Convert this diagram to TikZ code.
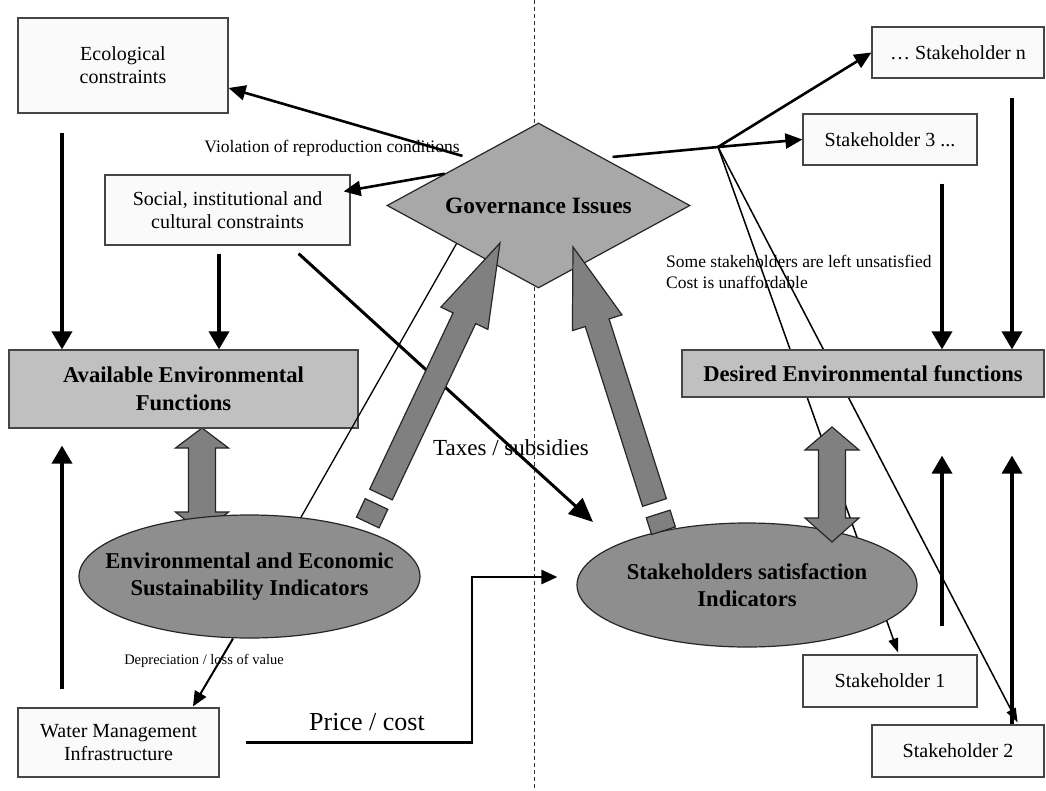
\documentclass[tikz,border=0pt]{standalone}
\usepackage{fontspec}
\setmainfont{Liberation Serif}
\usetikzlibrary{arrows.meta,shapes.geometric,calc}
\definecolor{boxfill}{HTML}{FAFAFA}
\definecolor{lightbox}{HTML}{C0C0C0}
\definecolor{govfill}{HTML}{A8A8A8}
\definecolor{ellfill}{HTML}{8E8E8E}
\definecolor{blockfill}{HTML}{808080}
\definecolor{edge}{HTML}{454545}
\newcommand{\regtext}{\fontsize{20}{23}\selectfont}
\newcommand{\boldtext}{\fontsize{22.6}{27.5}\selectfont\bfseries}
\newcommand{\smalltext}{\fontsize{17.5}{21}\selectfont}
\pgfdeclarelayer{bg}
\pgfdeclarelayer{fg}
\pgfsetlayers{bg,main,fg}
\begin{document}
\begin{tikzpicture}[x=1pt,y=-1pt,
  plainbox/.style={draw=edge, line width=1.2pt, fill=boxfill, inner sep=0pt, align=center, font=\regtext},
  graybox/.style={draw=edge, line width=1.2pt, fill=lightbox, inner sep=0pt, align=center, font=\boldtext},
  indell/.style={ellipse, draw=black!85, line width=1.2pt, fill=ellfill, inner sep=0pt},
  indtext/.style={inner sep=0pt, align=center, font=\boldtext},
  thickarrow/.style={line width=3.6pt, -{Triangle[length=18pt,width=20pt]}},
  midarrow/.style={line width=2.6pt, -{Triangle[length=17pt,width=15pt]}},
  taxarrow/.style={line width=3pt, -{Triangle[length=24pt,width=21pt]}},
  thinarrow/.style={line width=1.5pt, -{Triangle[length=14pt,width=10pt]}},
  thinline/.style={line width=1.3pt},
  blockshape/.style={draw=black!85, line width=1.2pt, fill=blockfill, line join=miter},
  lbl/.style={inner sep=0pt, align=left}
]
\useasboundingbox (0,0) rectangle (1046,790);

% column and branch coordinates
\coordinate (colA) at (62,0);
\coordinate (colB) at (219,0);
\coordinate (colC) at (942,0);
\coordinate (colD) at (1012,0);
\coordinate (colP) at (472,0);
\coordinate (br) at (718,147);

% nodes
\node[plainbox, minimum width=210pt, minimum height=95pt] (eco) at (123,65.5) {Ecological\\constraints};
\node[plainbox, minimum width=245pt, minimum height=70pt] (soc) at (227.5,210) {Social, institutional and\\cultural constraints};
\node[graybox, minimum width=349pt, minimum height=78pt] (avail) at (183.5,389) {Available Environmental\\Functions};
\node[plainbox, minimum width=201pt, minimum height=69pt] (water) at (118.5,742.5) {Water Management\\Infrastructure};
\node[diamond, draw=black!85, line width=1.2pt, fill=govfill, minimum width=303pt, minimum height=165pt, inner sep=0pt, aspect=1.84, font=\fontsize{23.4}{28}\selectfont\bfseries] (gov) at (538.5,205.5) {Governance Issues};
\node[indell, minimum width=341pt, minimum height=123pt] (envind) at (249.5,576.5) {};
\node[indtext] (envindtext) at (envind.center) {Environmental and Economic\\Sustainability Indicators};
\node[indell, minimum width=340pt, minimum height=124pt] (stakeind) at (747,585) {};
\node[indtext] (stakeindtext) at (stakeind.center) {Stakeholders satisfaction\\Indicators};
\node[graybox, minimum width=362pt, minimum height=47pt] (desired) at (863,373.5) {Desired Environmental functions};
\node[plainbox, minimum width=172pt, minimum height=51pt] (shn) at (958,52.5) {… Stakeholder n};
\node[plainbox, minimum width=174pt, minimum height=51pt] (sh3) at (890,139.5) {Stakeholder 3 ...};
\node[plainbox, minimum width=174pt, minimum height=52pt] (sh1) at (890,681) {Stakeholder 1};
\node[plainbox, minimum width=172pt, minimum height=52pt] (sh2) at (958,751) {Stakeholder 2};

\coordinate (pcend) at ([xshift=-19pt,yshift=8pt]stakeind.west);

\begin{pgfonlayer}{bg}
  \fill[white] (0,0) rectangle (1046,790);
  \draw[line width=1pt, dash pattern=on 4pt off 3pt, black!80] (534,0) -- (534,790);
  \draw[thinarrow] (br) -- ([xshift=8pt,yshift=2pt]sh1.north);
  \draw[thinarrow] (br) -- ([xshift=-27pt,yshift=2pt]sh2.north east);
  % left double block arrow (under the ellipse)
  \draw[blockshape] (202,428) -- (228.5,448) -- (215.5,448) -- (215.5,512) -- (228.5,512) -- (202,533)
     -- (175.5,512) -- (188.5,512) -- (188.5,448) -- (175.5,448) -- cycle;
\end{pgfonlayer}

\begin{pgfonlayer}{fg}
  % vertical arrows
  \draw[thickarrow] ([yshift=-19pt]eco.south -| colA) -- (avail.north -| colA);
  \draw[thickarrow] ([yshift=-8pt]soc.south -| colB) -- (avail.north -| colB);
  \draw[thickarrow] ([yshift=18pt]water.north -| colA) -- ([yshift=-17pt]avail.south -| colA);
  \draw[thickarrow] ([yshift=-18pt]sh3.south -| colC) -- (desired.north -| colC);
  \draw[thickarrow] ([yshift=-19pt]shn.south -| colD) -- (desired.north -| colD);
  \draw[thickarrow] ([yshift=28pt]sh1.north -| colC) -- ([yshift=-58pt]desired.south -| colC);
  \draw[thickarrow] (sh2.north -| colD) -- ([yshift=-58pt]desired.south -| colD);

  % governance arrows
  \draw[midarrow] ([yshift=8pt]gov.north west) -- ([yshift=-22.5pt]eco.east);
  \draw[midarrow] ([xshift=-17.75pt,yshift=-9.75pt]gov.north west) -- ([xshift=-7pt,yshift=-17pt]soc.north east);
  \draw[line width=2.6pt] ([xshift=-2pt,yshift=7pt]gov.north east) -- (br);
  \draw[midarrow] (br) -- (shn.west);
  \draw[midarrow] (br) -- (sh3.west);

  % thin line governance - indicators
  \draw[thinline] (gov.205) -- (envind.49.7);

  % taxes / subsidies
  \draw[taxarrow] ([xshift=-52pt,yshift=-8pt]soc.south east) -- ($(stakeind.center)+(-154,-63)$);

  % depreciation
  \draw[line width=2pt, -{Triangle[length=15pt,width=13pt]}] ([xshift=-16.5pt]envind.south) -- ([xshift=74.5pt,yshift=1pt]water.north);

  % price / cost
  \draw[line width=2.6pt, line join=miter, -{Triangle[length=16pt,width=14pt]}] ([xshift=26pt]water.east) -| (colP |- pcend) -- (pcend);

  % big block arrows to governance
  \begin{scope}[shift={(381,494.5)}, rotate=64.68]
    \draw[blockshape] (0,-12.5) -- (195,-12.5) -- (195,-26) -- (278.2,0) -- (195,26) -- (195,12.5) -- (0,12.5) -- cycle;
    \draw[blockshape] (-10.5,-12.5) rectangle (-31,12.5);
  \end{scope}
  \begin{scope}[shift={(654.5,502.5)}, rotate=107.69]
    \draw[blockshape] (0,-12.5) -- (188.7,-12.5) -- (188.7,-26) -- (268.2,0) -- (188.7,26) -- (188.7,12.5) -- (0,12.5) -- cycle;
    \draw[blockshape] (-12,-12.5) rectangle (-29.6,12.5);
  \end{scope}

  % right double block arrow
  \draw[blockshape] (832,427) -- (859,450) -- (845.5,450) -- (845.5,518) -- (859,518) -- (832,542)
     -- (805,518) -- (818.5,518) -- (818.5,450) -- (805,450) -- cycle;

  % labels
  \node[lbl, font=\smalltext] (viol) at (332,148) {Violation of reproduction conditions};
  \node[lbl, font=\smalltext, anchor=west] (unsat) at (666,272) {Some stakeholders are left unsatisfied\\Cost is unaffordable};
  \node[lbl, font=\fontsize{14.5}{17}\selectfont] (depr) at (204,661) {Depreciation / loss of value};
  \node[lbl, font=\fontsize{26}{30}\selectfont] (price) at (367,722) {Price / cost};
  \node[lbl, font=\fontsize{23}{27}\selectfont] (taxes) at (511,448) {Taxes / subsidies};
\end{pgfonlayer}
\end{tikzpicture}
\end{document}
